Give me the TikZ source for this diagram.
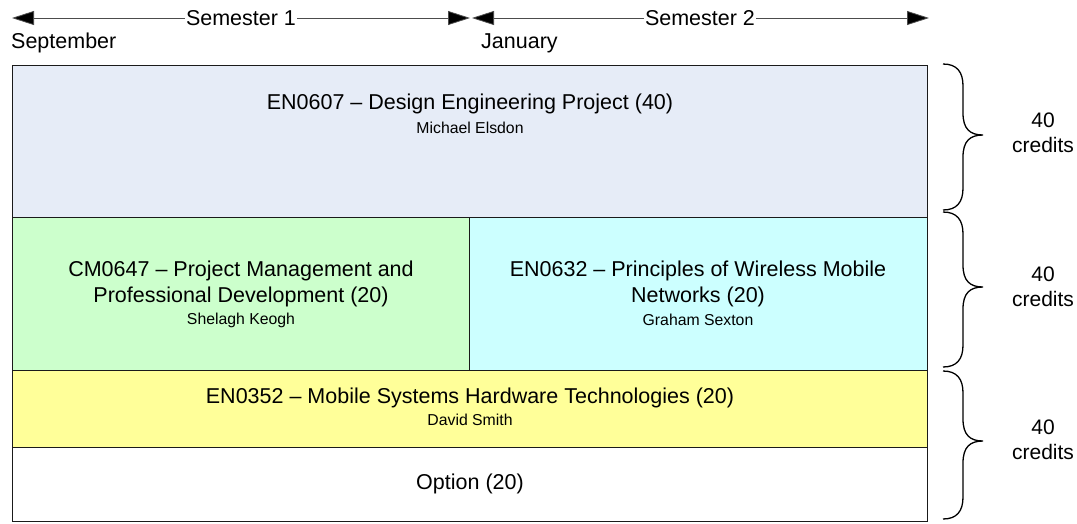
\documentclass[tikz,border=0pt]{standalone}
\usepackage{fontspec}
\setmainfont{Liberation Sans}
\usetikzlibrary{arrows.meta}
\definecolor{topblue}{HTML}{E6ECF7}
\definecolor{lgreen}{HTML}{CCFFCC}
\definecolor{lcyan}{HTML}{CCFFFF}
\definecolor{lyellow}{HTML}{FFFF99}
\definecolor{edge}{HTML}{1A1A1A}
\tikzset{
  modbox/.style={draw=edge, line width=1.3pt, anchor=north west, inner sep=0pt},
  big/.style={font=\fontsize{21.5}{26}\selectfont},
  small/.style={font=\fontsize{15.8}{18}\selectfont},
  credtxt/.style={font=\fontsize{21}{25}\selectfont, align=center},
  semarrow/.style={draw=black!70, line width=0.8pt, -{Triangle[length=22pt,width=14pt,fill=black]}},
  semlbl/.style={fill=white, inner sep=1pt, font=\fontsize{21.5}{26}\selectfont},
  bracepath/.style={draw=black, line width=1.3pt}
}
\begin{document}
\begin{tikzpicture}[x=1pt,y=-1pt]
\useasboundingbox (0,0) rectangle (1077,523);
% time arrows
\coordinate (s1a) at (12,18);
\coordinate (s1b) at (470,18);
\coordinate (s2a) at (472,18);
\coordinate (s2b) at (929,18);
\draw[semarrow] (241,18) -- (s1a);
\draw[semarrow] (241,18) -- (s1b);
\node[semlbl] (sem1) at (241,18) {Semester 1};
\draw[semarrow] (700,18) -- (s2a);
\draw[semarrow] (700,18) -- (s2b);
\node[semlbl] (sem2) at (700,18) {Semester 2};
\node[big, anchor=west, inner sep=0pt] (sep) at (11,43) {September};
\node[big, anchor=west, inner sep=0pt] (jan) at (481,43) {January};
% boxes
\node[modbox, fill=topblue, minimum width=915pt, minimum height=152pt] (en0607) at (12,65) {};
\node[modbox, fill=lgreen, minimum width=457pt, minimum height=153pt] (cm0647) at (12,217) {};
\node[modbox, fill=lcyan, minimum width=458pt, minimum height=153pt] (en0632) at (469,217) {};
\node[modbox, fill=lyellow, minimum width=915pt, minimum height=77pt] (en0352) at (12,370) {};
\node[modbox, fill=white, minimum width=915pt, minimum height=74pt] (opt) at (12,447) {};
% texts
\node[big, inner sep=0pt] (t1) at (470,104) {EN0607 -- Design Engineering Project (40)};
\node[small, inner sep=0pt] (t1s) at (470,128) {Michael Elsdon};
\node[big, inner sep=0pt, align=center] (t2) at (241,284) {CM0647 -- Project Management and\\Professional Development (20)};
\node[small, inner sep=0pt] (t2s) at (241,320) {Shelagh Keogh};
\node[big, inner sep=0pt, align=center] (t3) at (698,284) {EN0632 -- Principles of Wireless Mobile\\Networks (20)};
\node[small, inner sep=0pt] (t3s) at (698,320) {Graham Sexton};
\node[big, inner sep=0pt] (t4) at (470,398) {EN0352 -- Mobile Systems Hardware Technologies (20)};
\node[small, inner sep=0pt] (t4s) at (470,420) {David Smith};
\node[big, inner sep=0pt] (t5) at (470,484) {Option (20)};
% braces
\foreach \ya/\yt/\yb in {64/135/210, 212/287/367, 371/441/519}{
  \draw[bracepath] (943,\ya) .. controls (957,\ya) and (963,\ya+8) .. (963,\ya+22)
    -- (963,\yt-22) .. controls (963,\yt-6) and (970,\yt) .. (983,\yt)
    .. controls (970,\yt) and (963,\yt+6) .. (963,\yt+22)
    -- (963,\yb-22) .. controls (963,\yb-8) and (957,\yb) .. (943,\yb);
}
\node[credtxt] (c1) at (1043,133) {40\\credits};
\node[credtxt] (c2) at (1043,287) {40\\credits};
\node[credtxt] (c3) at (1043,440) {40\\credits};
\end{tikzpicture}
\end{document}
